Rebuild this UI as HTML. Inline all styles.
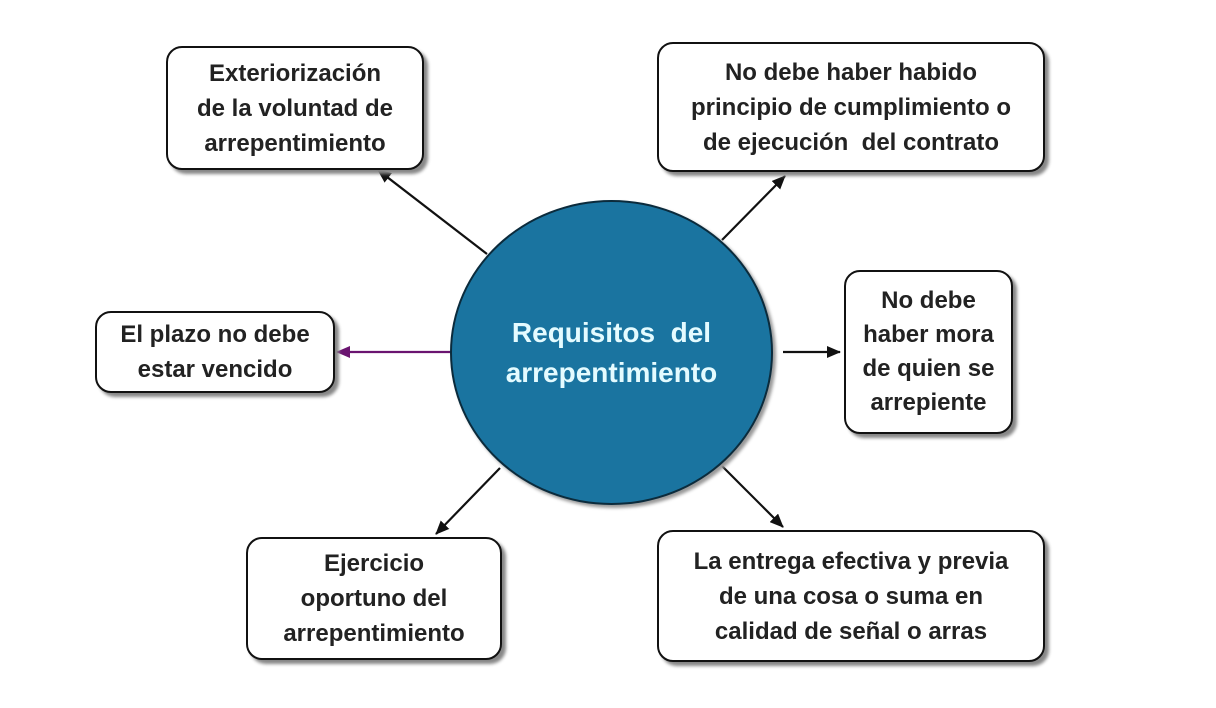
<!DOCTYPE html>
<html><head><meta charset="utf-8"><style>
body{margin:0;width:1216px;height:708px;background:#fff;position:relative;overflow:hidden;font-family:"Liberation Sans",Arial,sans-serif}
.b{position:absolute;box-sizing:border-box;border:2px solid #111;border-radius:16px;background:#fff;box-shadow:4px 4px 3px #888;display:flex;align-items:center;justify-content:center;text-align:center;font-weight:bold;font-size:24px;line-height:35px;color:#222}
.c{position:absolute;left:450px;top:200px;width:323px;height:305px;border-radius:50%;background:#1a74a0;border:2px solid #0b2b3c;box-sizing:border-box;box-shadow:3px 3px 3px #999;display:flex;align-items:center;justify-content:center;text-align:center;color:#e4fbff;font-weight:bold;font-size:28px;line-height:40px}
svg{position:absolute;left:0;top:0}
</style></head><body>
<svg width="1216" height="708">
<defs>
<marker id="a" markerWidth="14" markerHeight="12" refX="13" refY="6" orient="auto" markerUnits="userSpaceOnUse" viewBox="0 0 14 12"><path d="M0,0L14,6L0,12z" fill="#111"/></marker>
<marker id="p" markerWidth="14" markerHeight="12" refX="13" refY="6" orient="auto" markerUnits="userSpaceOnUse" viewBox="0 0 14 12"><path d="M0,0L14,6L0,12z" fill="#6a1470"/></marker>
</defs>
<g stroke="#111" stroke-width="2.2" fill="none">
<line x1="487" y1="254" x2="378" y2="170" marker-end="url(#a)"/>
<line x1="722" y1="240" x2="785" y2="176" marker-end="url(#a)"/>
<line x1="783" y1="352" x2="840" y2="352" marker-end="url(#a)"/>
<line x1="500" y1="468" x2="436" y2="534" marker-end="url(#a)"/>
<line x1="722" y1="466" x2="783" y2="527" marker-end="url(#a)"/>
<line x1="452" y1="352" x2="337" y2="352" stroke="#6a1470" marker-end="url(#p)"/>
</g>
</svg>
<div class="c">Requisitos&nbsp; del<br>arrepentimiento</div>
<div class="b" style="left:166px;top:46px;width:258px;height:124px">Exteriorización<br>de la voluntad de<br>arrepentimiento</div>
<div class="b" style="left:657px;top:42px;width:388px;height:130px">No debe haber habido<br>principio de cumplimiento o<br>de ejecución&nbsp; del contrato</div>
<div class="b" style="left:95px;top:311px;width:240px;height:82px">El plazo no debe<br>estar vencido</div>
<div class="b" style="left:844px;top:270px;width:169px;height:164px;line-height:34px">No debe<br>haber mora<br>de quien se<br>arrepiente</div>
<div class="b" style="left:246px;top:537px;width:256px;height:123px">Ejercicio<br>oportuno del<br>arrepentimiento</div>
<div class="b" style="left:657px;top:530px;width:388px;height:132px">La entrega efectiva y previa<br>de una cosa o suma en<br>calidad de señal o arras</div>
</body></html>
